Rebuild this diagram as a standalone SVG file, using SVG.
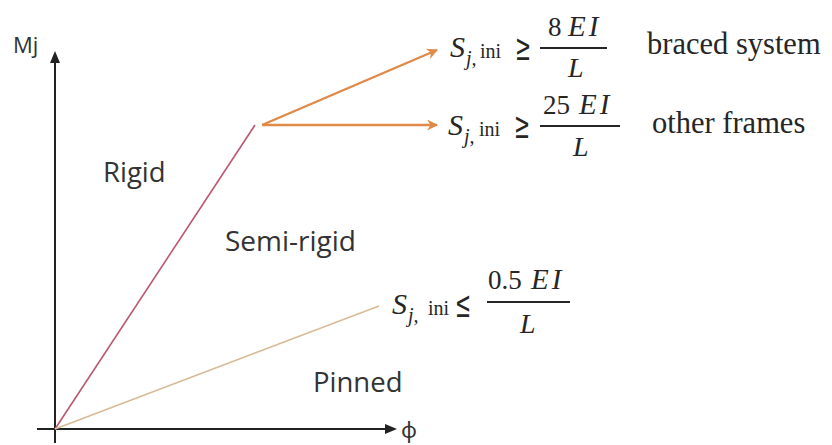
<svg xmlns="http://www.w3.org/2000/svg" width="832" height="445" viewBox="0 0 832 445">
<defs>
<style>
.lbl{font-family:"Open Sans","Noto Sans",sans-serif;fill:#333;}
.m{font-family:"Liberation Serif","DejaVu Serif",serif;fill:#262626;}
.S{font-size:30px;font-style:italic;}
.j{font-size:20px;font-style:italic;}
.ini{font-size:20px;}
.rel{font-family:"DejaVu Serif",serif;font-size:37px;}
.num{font-size:27px;}
.ei{font-size:29px;font-style:italic;letter-spacing:3px;}
.L{font-size:28px;font-style:italic;}
.word{font-size:30.5px;}
.bar{stroke:#262626;stroke-width:2;}
.axis{stroke:#222;stroke-width:2;fill:none;}
.orange{stroke:#e08a4a;stroke-width:2.4;fill:none;}
</style>
<marker id="ao" viewBox="0 0 10 10" refX="9" refY="5" markerWidth="12" markerHeight="11" orient="auto" markerUnits="userSpaceOnUse">
<path d="M0,0 L10,5 L0,10 L3,5 z" fill="#e08a4a"/>
</marker>
</defs>
<rect width="832" height="445" fill="#fff"/>

<g id="connectors">
<line class="axis" x1="55" y1="443" x2="55" y2="62"/>
<path d="M50,63 L55,51 L60,63 z" fill="#222"/>
<line class="axis" x1="37" y1="429" x2="386" y2="429"/>
<path d="M385,424 L397,429 L385,434 z" fill="#222"/>
<line x1="55" y1="429" x2="255" y2="125" stroke="#b9586f" stroke-width="1.6"/>
<line x1="55" y1="429" x2="379" y2="306" stroke="#d8bc98" stroke-width="1.6"/>
<line class="orange" x1="262" y1="125" x2="437" y2="50" marker-end="url(#ao)"/>
<line class="orange" x1="262" y1="125" x2="437" y2="125" marker-end="url(#ao)"/>
</g>

<g id="axis-labels">
<text class="lbl" x="13" y="53" font-size="22">Mj</text>
<text class="lbl" x="401" y="438" font-size="22">ϕ</text>
</g>

<g id="rigid"><text class="lbl" x="103" y="182" font-size="27.5">Rigid</text></g>
<g id="semi-rigid"><text class="lbl" x="225" y="251" font-size="28">Semi-rigid</text></g>
<g id="pinned"><text class="lbl" x="313" y="392" font-size="27.5">Pinned</text></g>

<g id="braced">
<text class="m S" x="450" y="57">S</text>
<text class="m j" x="466" y="65">j,</text>
<text class="m ini" x="480" y="58">ini</text>
<text class="m rel" transform="translate(515,60) scale(0.52,1)">≥</text>
<line class="bar" x1="540" y1="48" x2="607" y2="48"/>
<text class="m num" x="548" y="36">8</text>
<text class="m ei" x="568" y="36">EI</text>
<text class="m L" x="568" y="77">L</text>
<text class="m word" x="647" y="54">braced system</text>
</g>

<g id="other">
<text class="m S" x="448" y="135">S</text>
<text class="m j" x="464" y="143">j,</text>
<text class="m ini" x="479" y="136">ini</text>
<text class="m rel" transform="translate(514,138) scale(0.52,1)">≥</text>
<line class="bar" x1="540" y1="126" x2="620" y2="126"/>
<text class="m num" x="543" y="114">25</text>
<text class="m ei" x="579" y="114">EI</text>
<text class="m L" x="573" y="156">L</text>
<text class="m word" x="652" y="133">other frames</text>
</g>

<g id="pinned-limit">
<text class="m S" x="392" y="314">S</text>
<text class="m j" x="408" y="322">j,</text>
<text class="m ini" x="428" y="315">ini</text>
<text class="m rel" transform="translate(455,317) scale(0.52,1)">≤</text>
<line class="bar" x1="487" y1="302" x2="570" y2="302"/>
<text class="m num" x="488" y="289">0.5</text>
<text class="m ei" x="531" y="289">EI</text>
<text class="m L" x="520" y="333">L</text>
</g>
</svg>
